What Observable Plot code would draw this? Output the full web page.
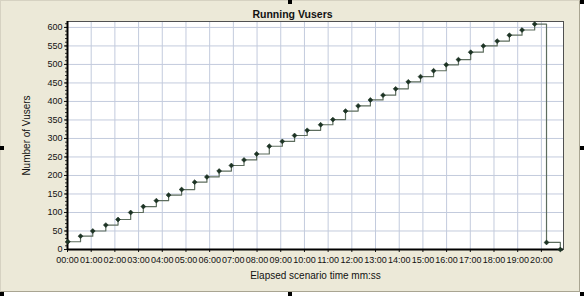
<!DOCTYPE html>
<html><head><meta charset="utf-8">
<script src="https://cdn.jsdelivr.net/npm/d3@7"></script>
<script src="https://cdn.jsdelivr.net/npm/@observablehq/plot@0.6"></script>
<style>
body{margin:0;background:#fff;}
#wrap{position:relative;width:584px;height:296px;overflow:hidden;background:#fff;}
#panel{position:absolute;left:0;top:0;width:578px;height:290px;background:#ece9d8;border-top:1px solid #d6d2c2;border-left:1px solid #d6d2c2;border-right:1px solid #a9a592;border-bottom:1px solid #a9a592;}
.h{position:absolute;width:4px;height:4px;background:#000;}
#chart{position:absolute;left:0;top:0;}
</style></head>
<body>
<div id="wrap">
  <div id="panel"></div>
  <div class="h" style="left:288px;top:0"></div>
  <div class="h" style="left:580px;top:0"></div>
  <div class="h" style="left:0;top:146px"></div>
  <div class="h" style="left:580px;top:146px"></div>
  <div class="h" style="left:0;top:292px"></div>
  <div class="h" style="left:288px;top:292px"></div>
  <div class="h" style="left:580px;top:292px"></div>
  <div id="chart"></div>
</div>
<script>
const title = "Running Vusers";
const xLabel = "Elapsed scenario time mm:ss";
const yLabel = "Number of Vusers";
// elapsed time in seconds
const times = [1,33,64,97,128,160,192,225,256,289,322,353,384,415,447,479,511,544,575,607,641,672,704,736,767,799,831,863,894,927,959,990,1021,1053,1088,1119,1151,1183,1213,1248];
const vusers = [21,36,50,66,81,100,116,132,147,162,182,196,212,227,242,258,279,292,308,322,337,351,374,388,404,417,434,453,467,483,499,513,533,550,563,579,593,609,19,0];
const xTicks = [0,60,120,180,240,300,360,420,480,540,600,660,720,780,840,900,960,1020,1080,1140,1200];
const yTicks = [0,50,100,150,200,250,300,350,400,450,500,550,600];
const yMinor = d3.range(0, 611, 10);

const data = times.map((t, i) => ({t, v: vusers[i]}));
const p2 = d3.format("02");
const fmt = s => p2(Math.floor(s / 60)) + ":" + p2(s % 60);

const chart = Plot.plot({
  width: 584, height: 296,
  marginLeft: 67, marginRight: 21, marginTop: 21, marginBottom: 47,
  style: {background: "transparent", fontFamily: "'Liberation Sans', Arial, sans-serif", fontSize: "9px", color: "#111"},
  x: {domain: [0, 1256]},
  y: {domain: [0, 616]},
  marks: [
    Plot.frame({fill: "white"}),
    Plot.gridX(xTicks, {stroke: "#c3cbdd", strokeOpacity: 1}),
    Plot.gridY(yTicks, {stroke: "#c3cbdd", strokeOpacity: 1}),
    Plot.frame({stroke: "#505050"}),
    Plot.axisY(yMinor, {tickSize: 2, tickFormat: () => "", label: null, stroke: "#333"}),
    Plot.axisX(xTicks, {tickSize: 3, tickPadding: 4, tickFormat: fmt, label: null, fontSize: 9}),
    Plot.axisX({label: xLabel, ticks: [], labelAnchor: "center", labelArrow: "none", labelOffset: 29, fontSize: 10}),
    Plot.axisY(yTicks, {tickSize: 3, tickPadding: 2, label: null, fontSize: 9}),
    Plot.axisY({label: yLabel, ticks: [], labelAnchor: "center", labelArrow: "none", labelOffset: 45, fontSize: 10}),
    Plot.ruleX([0], {stroke: "black", strokeWidth: 2}),
    Plot.ruleY([0], {stroke: "black", strokeWidth: 2}),
    Plot.line(data, {x: "t", y: "v", curve: "step-after", stroke: "#5d6d5e", strokeWidth: 1.2}),
    Plot.dot(data, {x: "t", y: "v", symbol: "diamond2", r: 2.2, fill: "#1c3324", stroke: "#1c3324", strokeWidth: 0.6}),
    Plot.text([title], {frameAnchor: "top", dy: -11, dx: -23, fontWeight: "bold", fontSize: 10.5, fill: "#111"})
  ]
});
document.getElementById("chart").append(chart);
</script>
</body></html>
